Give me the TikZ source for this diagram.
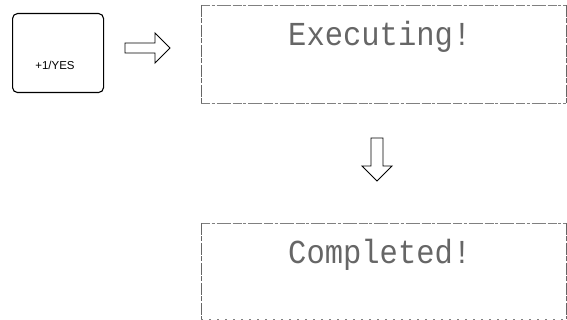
\documentclass[tikz,border=0pt]{standalone}
\usepackage{fontspec}
\setmainfont{Liberation Sans}
\newfontfamily\lcdfont{Liberation Mono}
\begin{document}
\begin{tikzpicture}[x=1pt,y=-1pt,
  keybox/.style={draw=black,line width=1.1pt,rounded corners=5pt},
  blockarrow/.style={draw=black,line width=0.9pt,fill=white,line join=miter},
  screenedge/.style={draw=black!50,line width=0.8pt,dash pattern=on 9pt off 1.5pt on 3pt off 2pt on 14pt off 2pt},
  screenside/.style={draw=black!60,line width=0.9pt,dash pattern=on 12pt off 1pt on 5pt off 2pt},
  screentext/.style={font=\lcdfont\fontsize{30.5}{30.5}\selectfont,text=black!60,inner sep=0pt,yscale=1.1}
]
\useasboundingbox (0,0) rectangle (567,320);
% key
\node[keybox,minimum width=91pt,minimum height=79pt,anchor=north west] (key) at (12,13) {};
\node[font=\fontsize{11.5}{11.5}\selectfont,inner sep=0pt] (keytext) at (55,65) {+1/YES};
% right arrow
\draw[blockarrow] (125,43)--(155,43)--(155,33)--(170,48)--(155,63)--(155,53)--(125,53)--cycle;
% screen 1
\coordinate (s1nw) at (201,5);
\coordinate (s1se) at (566,103);
\draw[screenedge] (s1nw) -- (s1nw -| s1se);
\draw[screenedge] (s1nw |- s1se) -- (s1se);
\draw[screenside] (s1nw) -- (s1nw |- s1se);
\draw[screenside] (s1nw -| s1se) -- (s1se);
\node[screentext,anchor=base west] (exec) at (288,46) {Executing!};
% down arrow
\draw[blockarrow] (371,138)--(383,138)--(383,166)--(392,166)--(377,181)--(362,166)--(371,166)--cycle;
% screen 2
\coordinate (s2nw) at (201,223);
\coordinate (s2se) at (566,319);
\draw[screenedge] (s2nw) -- (s2nw -| s2se);
\draw[screenedge,dash pattern=on 2pt off 6pt] (s2nw |- s2se) -- (s2se);
\draw[screenside] (s2nw) -- (s2nw |- s2se);
\draw[screenside] (s2nw -| s2se) -- (s2se);
\node[screentext,anchor=base west] (done) at (288,263) {Completed!};
\end{tikzpicture}
\end{document}
